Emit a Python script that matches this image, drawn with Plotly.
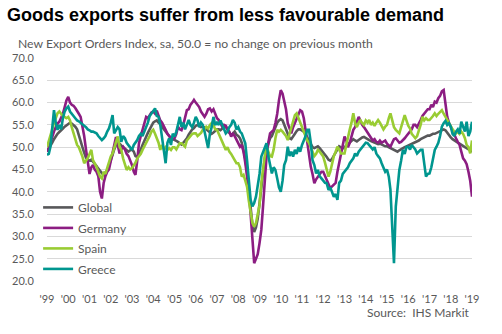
import pandas as pd
import plotly.graph_objects as go

# Monthly data Jan 1999 .. Jan 2019 (241 points)
dates = pd.date_range("1999-01-01", periods=241, freq="MS")

global_idx = [
    49.0, 49.6, 50.3, 51.0, 51.8, 52.5, 53.0, 53.4, 53.9, 54.2, 54.6, 54.9,
    55.2, 55.5, 55.3, 55.0, 54.6, 54.0, 52.5, 51.3, 50.0, 48.8, 47.6, 47.2,
    47.0, 47.2, 46.8, 46.3, 45.8, 45.2, 44.6, 44.2, 43.8, 44.0, 44.8, 45.8,
    47.0, 48.3, 49.5, 50.5, 51.0, 50.8, 50.4, 50.0, 49.6, 49.2, 49.0, 49.3,
    49.5, 49.0, 48.0, 47.8, 48.5, 49.5, 50.5, 51.5, 52.5, 53.2, 54.0, 54.8,
    55.5, 55.8, 56.0, 55.5, 55.2, 54.5, 54.0, 53.5, 53.0, 52.5, 52.0, 51.8,
    51.5, 51.4, 51.2, 50.8, 50.6, 51.0, 51.5, 52.0, 52.8, 53.5, 54.0, 54.3,
    54.8, 55.0, 54.8, 54.5, 54.6, 54.4, 54.0, 53.6, 53.2, 53.0, 53.3, 53.6,
    54.0, 54.0, 53.8, 54.2, 54.5, 54.6, 54.0, 53.2, 52.8, 53.0, 53.5, 52.8,
    52.5, 52.0, 51.0, 49.5, 47.5, 44.5, 40.5, 36.0, 32.5, 31.0, 32.0, 34.0,
    37.5, 41.5, 45.0, 47.5, 49.5, 51.0, 52.0, 52.5, 53.5, 54.5, 55.5, 56.0,
    56.3, 56.0, 55.0, 54.0, 53.0, 52.0, 51.8, 52.3, 53.0, 53.6, 54.0, 54.0,
    53.8, 53.5, 53.0, 52.2, 51.5, 50.6, 50.0, 49.8, 50.0, 50.2, 49.8, 49.3,
    49.0, 48.4, 47.8, 47.2, 47.0, 47.4, 48.0, 48.8, 49.5, 50.2, 50.0, 49.7,
    50.0, 50.4, 50.8, 51.2, 51.6, 51.8, 51.5, 51.3, 51.6, 52.0, 52.2, 52.3,
    52.0, 51.8, 51.6, 51.4, 51.2, 51.0, 50.8, 50.7, 50.8, 50.6, 50.4, 50.2,
    50.2, 50.0, 49.8, 49.6, 49.4, 49.2, 49.0, 49.3, 49.6, 49.8, 50.0, 50.2,
    50.4, 50.6, 50.7, 50.8, 51.0, 51.2, 51.5, 51.8, 52.0, 52.2, 52.4, 52.6,
    52.6, 52.8, 53.0, 53.0, 53.2, 53.4, 53.5, 53.8, 54.0, 53.8, 53.2, 52.6,
    52.2, 51.8, 51.5, 51.2, 51.0, 50.8, 50.5, 50.2, 50.0, 49.8, 49.6, 49.3,
    49.0,
]

germany = [
    49.0, 49.8, 51.0, 52.4, 53.5, 54.5, 55.3, 55.7, 56.5, 57.5, 59.0, 60.5,
    61.3, 60.0, 59.5, 59.3, 58.8, 58.0, 57.5, 56.8, 55.0, 52.5, 49.5, 47.0,
    44.0, 45.5, 46.0, 45.0, 44.5, 43.5, 40.0, 38.5, 42.0, 43.5, 44.5, 45.0,
    47.0, 48.5, 50.5, 52.3, 50.5, 48.6, 49.5, 50.1, 49.5, 48.5, 48.0, 47.0,
    46.0, 44.5, 43.8, 47.0, 50.9, 52.5, 54.0, 55.5, 56.8, 56.5, 57.2, 57.8,
    58.0, 57.5, 58.2, 57.0, 56.0, 55.5, 54.5, 53.9, 53.0, 52.5, 52.0, 51.8,
    52.0, 53.0, 54.6, 54.0, 53.8, 55.0, 56.5, 58.3, 58.5, 59.5, 60.0, 60.6,
    60.0, 59.5, 59.0, 58.0, 57.5, 56.8, 57.5, 58.5, 58.7, 58.0, 58.5, 57.5,
    56.5, 56.1, 55.5, 54.6, 55.0, 54.8, 54.0, 53.5, 52.4, 53.0, 52.5, 51.8,
    51.0, 50.1, 50.5, 49.0, 46.5, 43.0, 40.4, 35.0, 29.0, 24.0, 25.0, 26.0,
    28.5, 31.5, 36.5, 42.0, 47.9, 51.0, 53.1, 53.5, 53.9, 55.4, 57.5, 60.5,
    62.8, 62.0, 60.6, 58.5, 55.4, 54.0, 53.1, 54.5, 55.4, 56.5, 57.5, 58.3,
    58.0, 56.5, 54.0, 50.9, 48.5, 45.6, 44.0, 41.9, 42.8, 43.4, 44.0, 44.5,
    44.5, 43.5, 42.5, 41.5, 40.8, 41.2, 41.5, 42.0, 44.5, 46.5, 48.5, 51.0,
    52.4, 51.5, 50.0, 51.0, 52.5, 53.9, 54.5, 55.5, 56.8, 56.0, 55.0, 54.5,
    53.9, 53.0, 52.5, 52.0, 51.5, 51.8, 51.2, 51.0, 51.5, 51.0, 51.2, 51.5,
    50.8, 50.5, 50.1, 51.0, 51.8, 52.0, 51.5, 51.0, 51.2, 51.5, 52.0, 52.5,
    53.1, 53.5, 54.0, 55.0, 55.0, 54.5, 55.5, 56.1, 57.0, 57.5, 58.0, 58.5,
    58.5, 59.5, 59.0, 60.2, 60.0, 61.0, 61.5, 62.5, 62.8, 59.5, 56.8, 55.5,
    54.5, 53.9, 53.0, 52.0, 51.2, 50.5, 49.0, 47.5, 47.0, 46.2, 44.5, 42.5,
    38.9,
]

spain = [
    50.0, 51.6, 53.0, 54.0, 55.4, 56.5, 57.6, 58.0, 57.5, 57.0, 56.8, 56.5,
    56.8, 56.0, 54.5, 53.0, 51.6, 50.5, 50.0, 49.0, 47.9, 46.4, 47.0, 47.5,
    48.5, 49.4, 47.1, 46.4, 45.6, 44.5, 43.4, 43.0, 44.5, 44.0, 45.5, 46.5,
    47.9, 48.6, 50.0, 51.5, 52.4, 50.1, 49.4, 47.5, 46.0, 44.9, 45.5, 45.0,
    45.3, 45.8, 46.5, 47.5, 47.9, 48.5, 49.4, 50.1, 51.0, 51.6, 52.5, 53.5,
    53.9, 53.0, 52.0, 51.0, 49.4, 50.5, 49.5, 50.0, 49.4, 49.8, 49.4, 50.0,
    50.0, 49.5, 50.2, 50.9, 50.9, 50.5, 50.1, 51.5, 52.0, 52.5, 53.0, 53.1,
    53.1, 52.5, 52.8, 53.2, 53.9, 54.0, 54.6, 54.2, 55.0, 55.4, 55.0, 54.0,
    53.9, 53.0, 52.0, 51.5, 50.5, 49.4, 50.0, 49.0, 48.5, 47.9, 47.0, 46.4,
    46.4, 45.5, 43.4, 43.8, 42.5, 41.1, 38.0, 35.2, 33.0, 32.2, 33.0, 35.0,
    37.0, 42.0, 45.6, 48.0, 50.1, 49.0, 48.0, 47.9, 49.5, 52.0, 53.9, 53.5,
    53.9, 53.5, 53.1, 52.5, 51.6, 53.0, 54.5, 55.4, 57.2, 57.6, 56.5, 55.5,
    54.6, 53.5, 52.4, 51.5, 51.0, 50.1, 49.0, 48.0, 48.5, 49.4, 49.0, 48.5,
    47.9, 46.5, 45.0, 43.4, 44.5, 46.4, 48.0, 49.0, 50.1, 49.5, 48.6, 48.6,
    48.6, 50.5, 52.4, 54.0, 55.5, 57.6, 55.4, 54.5, 55.5, 56.0, 55.4, 55.0,
    56.0, 55.5, 56.1, 55.0, 55.5, 54.8, 55.5, 56.1, 55.5, 54.6, 54.0, 54.6,
    55.0, 56.5, 57.6, 56.0, 54.5, 53.9, 53.5, 53.1, 54.5, 56.0, 57.2, 56.0,
    54.8, 54.2, 53.0, 52.5, 52.0, 52.5, 53.5, 55.0, 56.8, 56.0, 56.5, 56.1,
    56.1, 56.5, 57.0, 57.6, 57.0, 57.5, 58.0, 58.3, 57.5, 56.8, 56.1, 55.5,
    54.5, 54.0, 53.5, 53.1, 53.5, 53.0, 53.5, 53.0, 52.0, 50.5, 50.0, 48.6,
    51.5,
]

greece = [
    48.3, 48.5, 50.1, 54.0, 58.3, 55.4, 53.9, 55.0, 54.0, 56.5, 58.0, 58.7,
    59.1, 58.0, 57.6, 57.0, 56.5, 56.0, 55.8, 55.4, 55.0, 54.8, 54.5, 54.0,
    53.8, 53.5, 53.5, 53.3, 53.1, 52.5, 52.0, 51.6, 52.0, 52.5, 53.5, 54.2,
    55.5, 57.2, 53.1, 54.0, 54.5, 54.0, 51.2, 52.5, 52.0, 51.0, 50.5, 50.0,
    49.4, 50.5, 51.0, 51.6, 52.5, 53.0, 52.5, 53.5, 54.2, 55.5, 57.0, 57.6,
    58.0, 58.7, 57.0, 56.8, 55.0, 52.0, 49.0, 46.4, 51.0, 52.0, 50.5, 53.0,
    52.4, 53.5, 55.0, 56.8, 54.5, 55.5, 54.0, 55.0, 56.1, 55.0, 54.5, 55.5,
    56.8, 56.0, 54.5, 55.5, 55.0, 53.5, 52.0, 49.8, 53.0, 54.5, 56.8, 55.0,
    55.5, 55.0, 56.0, 55.0, 54.0, 53.1, 53.5, 54.5, 55.0, 56.1, 55.5, 54.0,
    54.5, 53.5, 53.1, 52.0, 50.9, 47.0, 41.9, 38.2, 36.7, 37.5, 38.9, 41.0,
    44.0, 47.9, 49.0, 50.0, 50.9, 48.0, 46.0, 44.1, 45.5, 44.9, 43.0, 41.0,
    40.0, 42.5, 46.0, 47.1, 50.1, 48.0, 49.0, 47.9, 49.4, 48.5, 50.0, 49.0,
    50.5, 51.5, 52.4, 53.9, 53.9, 51.0, 47.1, 46.0, 44.1, 44.9, 43.5, 43.0,
    42.5, 42.0, 41.9, 40.4, 41.0, 40.0, 38.9, 39.5, 38.2, 42.0, 42.5, 44.0,
    44.5, 45.0, 45.5, 46.4, 47.0, 47.5, 48.6, 48.0, 49.0, 49.5, 50.1, 50.5,
    51.0, 50.9, 50.5, 50.0, 49.5, 50.0, 48.6, 48.0, 47.5, 46.4, 45.5, 44.5,
    45.0, 43.4, 40.5, 32.0, 24.0, 36.7, 41.5, 44.9, 47.0, 49.4, 48.5, 50.0,
    50.1, 49.5, 50.5, 50.1, 49.5, 48.6, 49.0, 49.4, 49.4, 46.0, 43.4, 44.0,
    44.1, 45.5, 47.1, 49.4, 50.1, 51.0, 52.5, 54.6, 55.4, 55.9, 55.0, 55.4,
    54.6, 53.0, 52.5, 53.5, 54.0, 53.0, 55.7, 54.6, 53.5, 55.7, 52.5, 53.5,
    55.7,
]

series_names = ["Global", "Germany", "Spain", "Greece"]
series_values = [global_idx, germany, spain, greece]
series_colors = ["#58585a", "#8c1d82", "#99cc33", "#00968f"]

y_ticks = [20, 25, 30, 35, 40, 45, 50, 55, 60, 65, 70]

FONT = "Lato, 'Open Sans', sans-serif"
GREY = "#595959"

fig = go.Figure()
for name, vals, col in zip(series_names, series_values, series_colors):
    fig.add_trace(go.Scatter(x=dates, y=vals, mode="lines", name=name,
                             legendgroup=name,
                             line=dict(color=col, width=2.6)))

fig.update_layout(
    width=502, height=334,
    margin=dict(l=42, r=30, t=58, b=53),
    paper_bgcolor="white", plot_bgcolor="white",
    font=dict(family=FONT, color=GREY, size=11),
    showlegend=True,
    legend=dict(x=-9/430, xanchor="left", y=0.395, yanchor="top",
                bgcolor="rgba(0,0,0,0)", font=dict(size=12, color=GREY),
                tracegroupgap=1.5),
    xaxis=dict(type="date", range=["1999-01-01", "2019-01-01"],
               dtick="M12", tick0="1999-01-01", tickformat="'%y",
               showgrid=False, zeroline=False, showline=False,
               ticks="outside", ticklen=8, tickcolor="rgba(0,0,0,0)",
               tickfont=dict(size=11, color=GREY)),
    yaxis=dict(range=[20, 70], tickvals=y_ticks, tickformat=".1f",
               showgrid=True, gridcolor="#d9d9d9", gridwidth=1,
               zeroline=False, showline=False,
               ticks="outside", ticklen=10, tickcolor="rgba(0,0,0,0)",
               tickfont=dict(size=11, color=GREY)),
    annotations=[
        dict(text="<b>Goods exports suffer from less favourable demand</b>",
             xref="paper", yref="paper", x=-42/430, y=1 + 43/223,
             xanchor="left", yanchor="middle", showarrow=False,
             font=dict(family="'Liberation Sans', Arial, sans-serif", size=18, color="black")),
        dict(text="New Export Orders Index, sa, 50.0 = no change on previous month",
             xref="paper", yref="paper", x=-31/430, y=1 + 15/223,
             xanchor="left", yanchor="middle", showarrow=False,
             font=dict(family=FONT, size=12.2, color=GREY)),
        dict(text="Source:  IHS Markit",
             xref="paper", yref="paper", x=1.0, y=-31/223,
             xanchor="right", yanchor="middle", showarrow=False,
             font=dict(family=FONT, size=12, color=GREY)),
    ],
)

fig.write_html("out.html")
